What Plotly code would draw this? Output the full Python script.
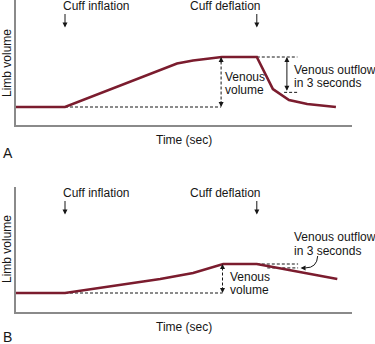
import numpy as np
import plotly.graph_objects as go

# Limb volume during venous occlusion plethysmography
# Panel A: normal venous outflow after cuff deflation
time_a = [0, 7, 23, 25.3, 29.4, 34.4, 36.7, 39.0, 41.6, 45.7]
volume_a = [7.2, 7.2, 24.6, 25.8, 27.2, 27.2, 14.4, 10.0, 8.4, 7.2]

# Panel B: reduced venous capacitance and outflow
time_b = [0, 7, 20.6, 23.0, 25.3, 29.6, 34.4, 45.9]
volume_b = [7.6, 7.6, 13.2, 14.4, 15.6, 19.2, 19.2, 13.2]

cuff_inflation_t = 7.0
cuff_deflation_t = 34.4
outflow_window_s = 3

panel_labels = ["A", "B"]
x_title = "Time (sec)"
y_title = "Limb volume"
cuff_labels = ["Cuff inflation", "Cuff deflation"]
venous_volume_lines = ["Venous", "volume"]
outflow_lines = ["Venous outflow", "in 3 seconds"]

CURVE = "#7b1c2e"
AXIS = "#8a8a8a"
INK = "#161616"
FONT = "Liberation Sans, Arial, Helvetica, sans-serif"

W, H = 375, 344
ML, MR = 16, 23
X_RANGE = [0, 48]
Y_RANGE = [0, 50]

fig = go.Figure()
shapes, annotations = [], []


def txt(ax, x, y, s, anchor="left", size=12):
    annotations.append(dict(
        xref="x" + ax, yref="y" + ax, x=x, y=y, text=s, showarrow=False,
        xanchor=anchor, yanchor="middle", borderpad=0,
        font=dict(family=FONT, size=size, color=INK)))


def paper_txt(px, py, s, anchor="center", size=12, angle=0):
    # place text by figure pixel position (margins top/bottom are zero)
    annotations.append(dict(
        xref="paper", yref="paper", x=(px - ML) / (W - ML - MR), y=1 - py / H,
        text=s, showarrow=False, xanchor=anchor, yanchor="middle",
        textangle=angle, borderpad=0,
        font=dict(family=FONT, size=size, color=INK)))


def head(ax, x, y, dx, dy):
    # small arrow whose tip sits at (x, y); dx, dy are tail offsets in px
    annotations.append(dict(
        xref="x" + ax, yref="y" + ax, x=x, y=y, ax=dx, ay=dy, text="",
        showarrow=True, arrowhead=2, arrowsize=1, arrowwidth=1,
        arrowcolor=INK, standoff=0, startstandoff=0))


def dash(ax, x0, y0, x1, y1):
    shapes.append(dict(
        type="line", xref="x" + ax, yref="y" + ax, x0=x0, y0=y0, x1=x1, y1=y1,
        line=dict(color=INK, width=1, dash="3px,2px"), layer="below"))


panels = [
    dict(ax="", t=time_a, v=volume_a, vv_text_dx=0.25, vv_text_y=[19.2, 14.0],
         out_text_x=39.6, out_text_y=[22.2, 16.8], out_arrow_t=38.7,
         out_dash_end=40.2, curved=False,
         title_py=140, label_py=153, ytitle_py=63),
    dict(ax="2", t=time_b, v=volume_b, vv_text_dx=0.8, vv_text_y=[14.0, 8.8],
         out_text_x=39.6, out_text_y=[30.2, 24.6], out_arrow_t=None,
         out_dash_end=40.3, curved=True,
         title_py=327, label_py=337, ytitle_py=249),
]

for i, p in enumerate(panels):
    ax = p["ax"]
    t = np.array(p["t"], dtype=float)
    v = np.array(p["v"], dtype=float)
    baseline = v[0]
    plateau = v.max()
    plateau_t = t[np.argmax(v)]
    outflow_level = float(np.interp(cuff_deflation_t + outflow_window_s, t, v))

    fig.add_trace(go.Scatter(
        x=t, y=v, mode="lines", xaxis="x" + ax, yaxis="y" + ax,
        line=dict(color=CURVE, width=2.6), hoverinfo="skip", showlegend=False))

    # cuff event markers
    for label, t_ev, lx in zip(cuff_labels, [cuff_inflation_t, cuff_deflation_t],
                               [cuff_inflation_t - 0.45, cuff_deflation_t - 9.7]):
        txt(ax, lx, 47.8, label)
        head(ax, t_ev, 39.0, 0, -15)

    # venous volume: baseline to plateau
    vx = plateau_t - 0.1
    dash(ax, cuff_inflation_t, baseline, vx, baseline)
    dash(ax, vx, baseline + 1.0, vx, plateau - 1.0)
    head(ax, vx, plateau, 0, 7)
    head(ax, vx, baseline, 0, -7)
    for line, y in zip(venous_volume_lines, p["vv_text_y"]):
        txt(ax, plateau_t + p["vv_text_dx"], y, line)

    # venous outflow over the first seconds after deflation
    dash(ax, cuff_deflation_t, plateau, p["out_dash_end"], plateau)
    dash(ax, cuff_deflation_t + outflow_window_s - (1.5 if p["curved"] else -0.9),
         outflow_level, p["out_dash_end"], outflow_level)
    for line, y in zip(outflow_lines, p["out_text_y"]):
        txt(ax, p["out_text_x"], y, line)

    if p["out_arrow_t"] is not None:
        annotations.append(dict(
            xref="x" + ax, yref="y" + ax, x=p["out_arrow_t"], y=plateau,
            ax=p["out_arrow_t"], ay=outflow_level, axref="x" + ax, ayref="y" + ax,
            text="", showarrow=True, arrowhead=2, arrowside="end+start",
            arrowsize=1, arrowwidth=1, arrowcolor=INK, standoff=0, startstandoff=0))
    else:
        tip_x = p["out_dash_end"] + 0.35
        shapes.append(dict(
            type="path", xref="x" + ax, yref="y" + ax,
            path=(f"M {43.1},{22.4} Q {43.0},{outflow_level} "
                  f"{tip_x + 0.7},{outflow_level}"),
            line=dict(color=INK, width=1)))
        head(ax, tip_x, outflow_level, 5, 0)

    # axis titles and panel letter
    paper_txt(184, p["title_py"], x_title)
    paper_txt(7, p["ytitle_py"], y_title, angle=-90)
    paper_txt(2, p["label_py"], panel_labels[i], anchor="left", size=14)

axis_common = dict(range=X_RANGE, showgrid=False, zeroline=False, showticklabels=False,
                   ticks="", showline=True, linecolor=AXIS, linewidth=1.5, fixedrange=True)
yaxis_common = dict(range=Y_RANGE, showgrid=False, zeroline=False, showticklabels=False,
                    ticks="", showline=True, linecolor=AXIS, linewidth=1.5, fixedrange=True)

fig.update_layout(
    width=W, height=H,
    margin=dict(l=ML, r=MR, t=0, b=0),
    paper_bgcolor="white", plot_bgcolor="white",
    xaxis=dict(axis_common, domain=[0, 1], anchor="y"),
    yaxis=dict(yaxis_common, domain=[1 - 125 / H, 1], anchor="x"),
    xaxis2=dict(axis_common, domain=[0, 1], anchor="y2"),
    yaxis2=dict(yaxis_common, domain=[1 - 312 / H, 1 - 187 / H], anchor="x2"),
    shapes=shapes, annotations=annotations,
    font=dict(family=FONT, size=12, color=INK),
    showlegend=False,
)

fig.write_html("out.html")
